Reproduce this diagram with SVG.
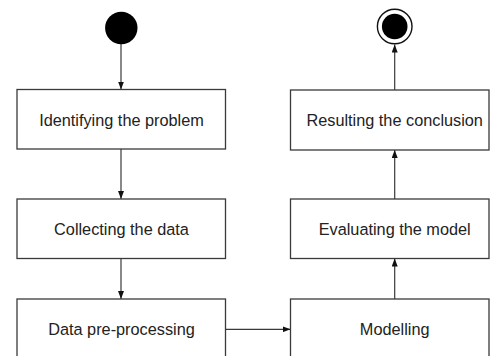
<svg xmlns="http://www.w3.org/2000/svg" width="496" height="356" viewBox="0 0 496 356">
<style>
.box{fill:#fff;stroke:#3a3a3a;stroke-width:1.3}
.lbl{font-family:"Liberation Sans",Arial,sans-serif;font-size:16.3px;fill:#222;text-anchor:middle}
.edge{fill:none;stroke:#3a3a3a;stroke-width:1.2;marker-end:url(#ah)}
</style>
<defs>
<marker id="ah" viewBox="0 0 8 6" refX="8" refY="3" markerWidth="8" markerHeight="6" markerUnits="userSpaceOnUse" orient="auto">
<path d="M0,0 L8,3 L0,6 Z" fill="#111"/>
</marker>
</defs>
<rect width="496" height="356" fill="#fff"/>
<g id="connectors">
<line class="edge" x1="121" y1="44" x2="121" y2="89.5"/>
<line class="edge" x1="121" y1="149" x2="121" y2="199"/>
<line class="edge" x1="121" y1="258.5" x2="121" y2="299"/>
<line class="edge" x1="225.5" y1="329.3" x2="290.5" y2="329.3"/>
<line class="edge" x1="394.7" y1="299" x2="394.7" y2="258.5"/>
<line class="edge" x1="394.7" y1="199" x2="394.7" y2="150"/>
<line class="edge" x1="394.7" y1="90" x2="394.7" y2="44.5"/>
</g>
<g id="start">
<circle cx="121.3" cy="28" r="16.2" fill="#000"/>
</g>
<g id="end">
<circle cx="394.7" cy="26.5" r="17.3" fill="#fff" stroke="#111" stroke-width="1.4"/>
<circle cx="394.7" cy="26.5" r="12.8" fill="#000"/>
</g>
<g id="n1">
<rect class="box" x="17" y="89.5" width="208.5" height="59.5"/>
<text class="lbl" x="121.5" y="125.5">Identifying the problem</text>
</g>
<g id="n2">
<rect class="box" x="17" y="199" width="208.5" height="59.5"/>
<text class="lbl" x="121.5" y="235">Collecting the data</text>
</g>
<g id="n3">
<rect class="box" x="17" y="299" width="208.5" height="70"/>
<text class="lbl" x="121.5" y="335">Data pre-processing</text>
</g>
<g id="n4">
<rect class="box" x="290.5" y="90" width="198.5" height="60"/>
<text class="lbl" x="394.7" y="126">Resulting the conclusion</text>
</g>
<g id="n5">
<rect class="box" x="290.5" y="199" width="198.5" height="59.5"/>
<text class="lbl" x="394.7" y="235">Evaluating the model</text>
</g>
<g id="n6">
<rect class="box" x="290.5" y="299" width="198.5" height="70"/>
<text class="lbl" x="394.7" y="335">Modelling</text>
</g>
</svg>
